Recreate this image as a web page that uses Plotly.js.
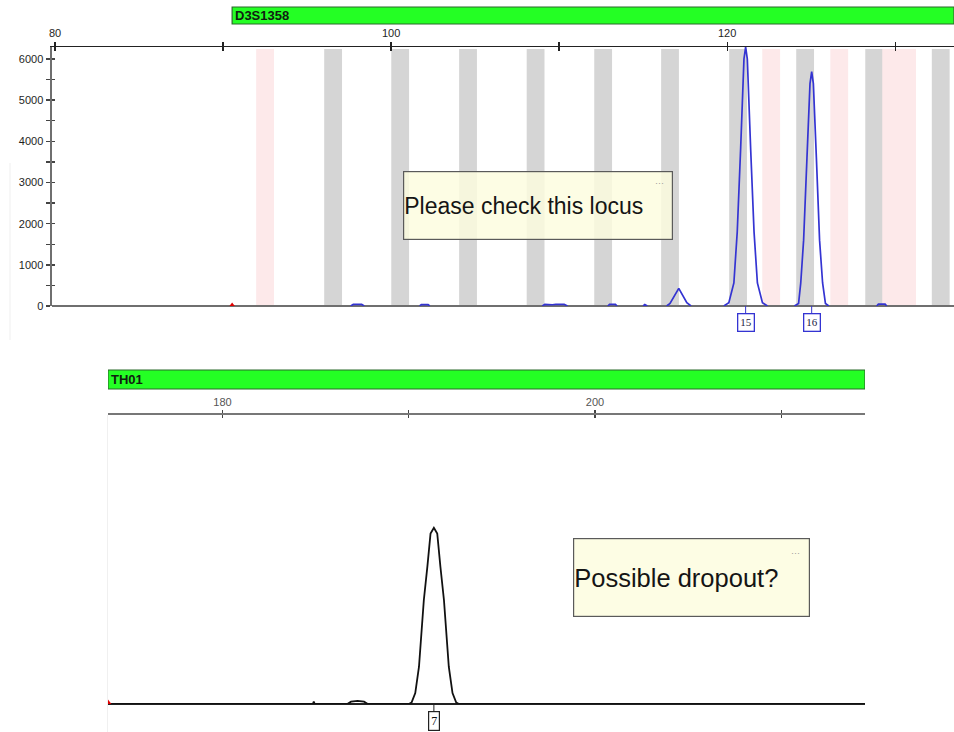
<!DOCTYPE html>
<html>
<head>
<meta charset="utf-8">
<script src="https://cdn.plot.ly/plotly-3.0.1.min.js"></script>
<style>
html,body{margin:0;padding:0;background:#fff;}
#chart{width:954px;height:732px;}
</style>
</head>
<body>
<div id="chart"></div>
<script>
// ---------- DATA ----------
// Locus D3S1358 (blue dye) electropherogram, size (bp) vs RFU; null separates segments
const d3Size = [
  97.6, 97.75, 98.25, 98.4, null,
  101.7, 101.8, 102.2, 102.3, null,
  109.0, 109.15, 109.6, 109.8, 110.3, 110.5, null,
  112.9, 113.0, 113.35, 113.45, null,
  115.0, 115.1, 115.25, null,
  116.4, 116.6, 117.12, 117.6, 117.85, null,
  119.8, 120.1, 120.4, 120.6, 120.8, 121.0, 121.1, 121.2, 121.4, 121.6, 121.8, 122.1, 122.4, null,
  124.0, 124.25, 124.38, 124.55, 124.75, 124.93, 125.03, 125.13, 125.31, 125.5, 125.68, 125.85, 126.05, null,
  128.9, 129.0, 129.4, 129.5
];
const d3Rfu = [
  0, 40, 40, 0, null,
  0, 35, 35, 0, null,
  0, 40, 30, 40, 40, 0, null,
  0, 40, 40, 0, null,
  0, 35, 0, null,
  0, 60, 430, 80, 0, null,
  0, 80, 560, 1800, 3800, 6000, 6290, 6000, 3800, 1800, 560, 80, 0, null,
  0, 60, 560, 1600, 3600, 5400, 5690, 5400, 3600, 1600, 560, 60, 0, null,
  0, 45, 45, 0
];
const d3AlleleLabels = ['15', '16'];
const d3AlleleSizes = [121.1, 125.03];
const d3BinCenters = [92.5, 96.55, 100.54, 104.58, 108.6, 112.62, 116.6, 120.65, 122.62, 124.64, 126.67, 128.75, 129.76, 130.71, 132.71];
const d3BinTypes   = ['virtual', 'allele', 'allele', 'allele', 'allele', 'allele', 'allele', 'allele', 'virtual', 'allele', 'virtual', 'allele', 'virtual', 'virtual', 'allele'];
const d3MarkerSize = [90.54];

// Locus TH01 (black dye)
const th01Size = [173.85, 184.85, 184.9, 184.95, 186.7, 186.9, 187.25, 187.6, 187.8,
  190.0, 190.15, 190.35, 190.55, 190.81, 191.0, 191.17, 191.35, 191.53, 191.7, 191.89, 192.15, 192.35, 192.55, 192.7, 214.5];
const th01Rfu = [0, 0, 8, 0, 0, 8, 11, 8, 0,
  0, 5, 38, 129, 360, 475, 590, 610, 590, 475, 360, 129, 38, 5, 0, 0];
const th01AlleleLabels = ['7'];
const th01AlleleSizes = [191.35];
const th01MarkerSize = [173.85];

const lociNames = ['D3S1358', 'TH01'];
const lociStart = [90.54, 173.85];
const lociEnd   = [133.5, 214.5];

const notes = ['Please check this locus', 'Possible dropout?'];

// ---------- STYLE / LAYOUT ----------
const W = 954, H = 732;
const py = v => 1 - v / H;   // pixel-from-top -> paper fraction
const px = v => v / W;

const blue = '#3434d2';
const tickFont = {family: 'Arial, Liberation Sans, sans-serif', size: 11, color: '#1e1e1e'};

const traces = [
  {x: d3Size, y: d3Rfu, xaxis: 'x', yaxis: 'y', type: 'scatter', mode: 'lines',
   line: {color: blue, width: 1.7}, connectgaps: false, hoverinfo: 'skip'},
  {x: d3MarkerSize, y: d3MarkerSize.map(() => 0), xaxis: 'x', yaxis: 'y', type: 'scatter', mode: 'markers',
   marker: {symbol: 'triangle-up', size: 7, color: '#e00000'}, hoverinfo: 'skip'},
  {x: th01Size, y: th01Rfu, xaxis: 'x2', yaxis: 'y2', type: 'scatter', mode: 'lines',
   line: {color: '#111', width: 1.8}, hoverinfo: 'skip'},
  {x: th01MarkerSize, y: th01MarkerSize.map(() => 0), xaxis: 'x2', yaxis: 'y2', type: 'scatter', mode: 'markers',
   marker: {symbol: 'triangle-up', size: 9, color: '#e00000'}, cliponaxis: true, hoverinfo: 'skip'}
];

const shapes = [];
// bins
d3BinCenters.forEach((c, i) => {
  shapes.push({type: 'rect', xref: 'x', yref: 'paper', layer: 'below',
    x0: c - 0.53, x1: c + 0.53, y0: py(305), y1: py(49),
    fillcolor: d3BinTypes[i] === 'allele' ? '#d5d5d5' : '#fde9ea', line: {width: 0}});
});
// locus bars
const barY = [[7, 24], [370, 389]];
const barRef = ['x', 'x2'];
lociNames.forEach((n, i) => {
  shapes.push({type: 'rect', xref: barRef[i], yref: 'paper',
    x0: lociStart[i], x1: lociEnd[i], y0: py(barY[i][1]), y1: py(barY[i][0]),
    fillcolor: '#24ff24', line: {color: '#2b6a2b', width: 1.2}});
});
// faint frame lines
shapes.push({type: 'line', xref: 'paper', yref: 'paper', x0: px(10), x1: px(10), y0: py(340), y1: py(163),
  line: {color: '#efefef', width: 1}});
shapes.push({type: 'line', xref: 'paper', yref: 'paper', x0: px(107.5), x1: px(107.5), y0: py(732), y1: py(415),
  line: {color: '#f0f0f0', width: 1}});

const annotations = [];
// locus names
lociNames.forEach((n, i) => {
  annotations.push({xref: barRef[i], yref: 'paper', x: lociStart[i], y: py((barY[i][0] + barY[i][1]) / 2),
    xanchor: 'left', yanchor: 'middle', xshift: 1, showarrow: false,
    text: '<b>' + n + '</b>', font: {family: 'Arial, Liberation Sans, sans-serif', size: 13, color: '#102010'}});
});
// allele labels
d3AlleleLabels.forEach((t, i) => {
  annotations.push({xref: 'x', yref: 'y', x: d3AlleleSizes[i], y: 0, text: t,
    showarrow: true, arrowhead: 0, arrowwidth: 1, arrowcolor: blue, ax: 0, ay: 16, standoff: 0,
    font: {family: 'Liberation Serif, Times New Roman, serif', size: 11, color: '#222244'},
    bordercolor: blue, borderwidth: 1.3, borderpad: 2, bgcolor: '#fff'});
});
th01AlleleLabels.forEach((t, i) => {
  annotations.push({xref: 'x2', yref: 'y2', x: th01AlleleSizes[i], y: 0, text: t,
    showarrow: true, arrowhead: 0, arrowwidth: 1, arrowcolor: '#222', ax: 0, ay: 17, standoff: 0,
    font: {family: 'Liberation Serif, Times New Roman, serif', size: 12, color: '#111'},
    bordercolor: '#222', borderwidth: 1.2, borderpad: 2, bgcolor: '#fff'});
});
// note boxes
const noteBox = [
  {cx: 538, cy: 205.5, w: 268, h: 67, size: 23, dots: [659, 183]},
  {cx: 691.5, cy: 577.5, w: 235, h: 77, size: 25.5, dots: [795, 553]}
];
notes.forEach((t, i) => {
  const b = noteBox[i];
  annotations.push({xref: 'paper', yref: 'paper', x: px(b.cx), y: py(b.cy), xanchor: 'center', yanchor: 'middle',
    showarrow: false, text: t, width: b.w, height: b.h, align: 'left', valign: 'middle',
    bgcolor: 'rgba(253,253,222,0.82)', bordercolor: '#5a5a5a', borderwidth: 1.2, borderpad: 0,
    font: {family: 'Arial, Liberation Sans, sans-serif', size: b.size, color: '#151515'}});
  annotations.push({xref: 'paper', yref: 'paper', x: px(b.dots[0]), y: py(b.dots[1]), xanchor: 'center', yanchor: 'middle',
    showarrow: false, text: '···', font: {family: 'Arial', size: 9, color: '#9a9a9a'}});
});

const layout = {
  width: W, height: H,
  margin: {l: 0, r: 0, t: 0, b: 0},
  paper_bgcolor: '#fff', plot_bgcolor: 'rgba(0,0,0,0)',
  showlegend: false,
  xaxis: {domain: [px(52), 1], range: [79.82, 133.5], anchor: 'y', side: 'top',
    tick0: 80, dtick: 20, ticks: 'outside', ticklen: 4, tickwidth: 1.3, tickcolor: '#222',
    showline: true, linecolor: '#222', linewidth: 1.5, showgrid: false, zeroline: false,
    tickfont: tickFont, fixedrange: true,
    minor: {tick0: 80, dtick: 10, ticks: 'outside', ticklen: 4, tickwidth: 1.3, tickcolor: '#222', showgrid: false}},
  xaxis3: {overlaying: 'x', range: [79.82, 133.5], anchor: 'y', side: 'top',
    tick0: 80, dtick: 10, ticks: 'inside', ticklen: 4, tickwidth: 1.3, tickcolor: '#222',
    showticklabels: false, showline: false, showgrid: false, zeroline: false},
  yaxis: {domain: [py(306), py(47)], range: [0, 6291], anchor: 'x',
    tick0: 0, dtick: 1000, ticks: 'outside', ticklen: 4, tickwidth: 1.5, tickcolor: '#444',
    showline: true, linecolor: '#6f6f6f', linewidth: 2.5, showgrid: false,
    zeroline: true, zerolinecolor: '#6f6f6f', zerolinewidth: 2.5,
    tickfont: tickFont, fixedrange: true,
    minor: {tick0: 0, dtick: 500, ticks: 'outside', ticklen: 4, tickwidth: 1.5, tickcolor: '#444', showgrid: false}},
  yaxis3: {overlaying: 'y', range: [0, 6291], anchor: 'x', side: 'left',
    tick0: 0, dtick: 500, ticks: 'inside', ticklen: 3, tickwidth: 1.5, tickcolor: '#444',
    showticklabels: false, showline: false, showgrid: false, zeroline: false},
  xaxis2: {domain: [px(108), px(865)], range: [173.85, 214.5], anchor: 'y2', side: 'top',
    tick0: 180, dtick: 20, ticks: 'outside', ticklen: 3, tickwidth: 1.3, tickcolor: '#444',
    showline: true, linecolor: '#777', linewidth: 2, showgrid: false, zeroline: false,
    tickfont: {family: 'Arial, Liberation Sans, sans-serif', size: 11, color: '#555'}, fixedrange: true,
    minor: {tick0: 180, dtick: 10, ticks: 'outside', ticklen: 3, tickwidth: 1.3, tickcolor: '#444', showgrid: false}},
  xaxis4: {overlaying: 'x2', range: [173.85, 214.5], anchor: 'y2', side: 'top',
    tick0: 180, dtick: 10, ticks: 'inside', ticklen: 3, tickwidth: 1.3, tickcolor: '#444',
    showticklabels: false, showline: false, showgrid: false, zeroline: false},
  yaxis2: {domain: [py(704), py(415)], range: [0, 1000], anchor: 'x2',
    showticklabels: false, ticks: '', showline: false, showgrid: false,
    zeroline: true, zerolinecolor: '#222', zerolinewidth: 1.5, fixedrange: true},
  shapes: shapes,
  annotations: annotations
};

// dummy traces so overlay axes are drawn
traces.push({x: [80], y: [0], xaxis: 'x3', yaxis: 'y3', type: 'scatter', mode: 'markers',
  marker: {opacity: 0}, hoverinfo: 'skip'});
traces.push({x: [180], y: [0], xaxis: 'x4', yaxis: 'y2', type: 'scatter', mode: 'markers',
  marker: {opacity: 0}, hoverinfo: 'skip'});

Plotly.newPlot('chart', traces, layout, {displayModeBar: false, staticPlot: true});
</script>
</body>
</html>
